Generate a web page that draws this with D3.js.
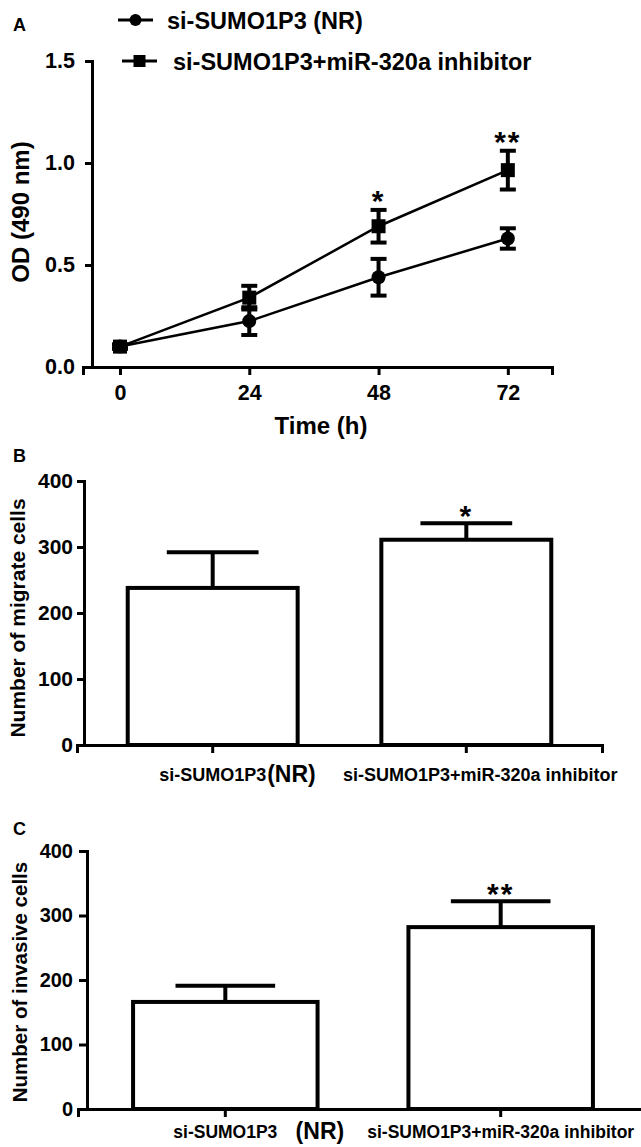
<!DOCTYPE html>
<html>
<head>
<meta charset="utf-8">
<script src="https://cdnjs.cloudflare.com/ajax/libs/d3/7.8.5/d3.min.js"></script>
<style>
  body { margin: 0; background: #fff; }
  svg { display: block; font-family: "Liberation Sans", Arial, sans-serif; font-weight: bold; }
</style>
</head>
<body>
<svg id="fig" width="641" height="1147"></svg>
<script>
// Panel A - OD over time
const timePoints = [0, 24, 48, 72];
const odNR = [0.10, 0.225, 0.44, 0.63];
const odNRErr = [0.01, 0.068, 0.09, 0.05];
const odInh = [0.10, 0.34, 0.69, 0.965];
const odInhErr = [0.01, 0.058, 0.08, 0.095];
const odSig = ['', '', '*', '**'];
const seriesNames = ['si-SUMO1P3 (NR)', 'si-SUMO1P3+miR-320a inhibitor'];

// Panels B and C - bar charts
const groups = ['si-SUMO1P3', 'si-SUMO1P3+miR-320a inhibitor'];
const migrate = [238, 311];
const migrateErr = [54, 25];
const migrateSig = ['', '*'];
const invasive = [166, 282];
const invasiveErr = [25, 40];
const invasiveSig = ['', '**'];
const countTicks = [0, 100, 200, 300, 400];

const svg = d3.select('#fig');
const black = '#000';

function styleAxis(g, fs) {
  g.selectAll('path, line').attr('stroke', black).attr('stroke-width', 3);
  g.selectAll('text').attr('fill', black).style('font-size', fs + 'px').style('font-weight', 'bold')
    .style('font-family', '"Liberation Sans", Arial, sans-serif');
}

// ---------------- Panel A ----------------
const xA = d3.scaleLinear().domain([-6.87, 80.2]).range([83, 552]);
const yA = d3.scaleLinear().domain([0, 1.5]).range([367, 61]);

svg.append('text').attr('x', 13).attr('y', 31).style('font-size', '18px').text('A');

const gxA = svg.append('g').attr('transform', 'translate(0,' + yA(0) + ')')
  .call(d3.axisBottom(xA).tickValues(timePoints).tickSizeOuter(0).tickSize(8).tickPadding(10));
styleAxis(gxA, 21.5);

const yAxisX = 92;
const gyA = svg.append('g').attr('transform', 'translate(' + yAxisX + ',0)')
  .call(d3.axisLeft(yA).tickValues([0, 0.5, 1.0, 1.5]).tickFormat(d3.format('.1f')).tickSizeOuter(0).tickSize(7).tickPadding(10));
styleAxis(gyA, 21.5);

svg.append('text').attr('x', 321).attr('y', 434).attr('text-anchor', 'middle')
  .style('font-size', '24px').text('Time (h)');
svg.append('text').attr('transform', 'translate(29,212) rotate(-90)').attr('text-anchor', 'middle')
  .style('font-size', '24px').text('OD (490 nm)');

const lineA = d3.line().x((d, i) => xA(timePoints[i])).y(d => yA(d));

function drawSeries(vals, errs, shape) {
  svg.append('path').datum(vals).attr('d', lineA)
    .attr('fill', 'none').attr('stroke', black).attr('stroke-width', 2.5);
  const g = svg.append('g');
  vals.forEach((v, i) => {
    const x = xA(timePoints[i]);
    const y1 = yA(v + errs[i]), y0 = yA(v - errs[i]);
    g.append('line').attr('x1', x).attr('x2', x).attr('y1', y1).attr('y2', y0)
      .attr('stroke', black).attr('stroke-width', 4);
    [y1, y0].forEach(yy => g.append('line').attr('x1', x - 8).attr('x2', x + 8)
      .attr('y1', yy).attr('y2', yy).attr('stroke', black).attr('stroke-width', 4));
    if (shape === 'circle') {
      g.append('circle').attr('cx', x).attr('cy', yA(v)).attr('r', 7).attr('fill', black);
    } else {
      g.append('rect').attr('x', x - 7).attr('y', yA(v) - 7).attr('width', 14).attr('height', 14).attr('fill', black);
    }
  });
}
drawSeries(odNR, odNRErr, 'circle');
drawSeries(odInh, odInhErr, 'square');

odSig.forEach((s, i) => {
  if (!s) return;
  svg.append('text').attr('x', xA(timePoints[i])).attr('y', yA(odInh[i] + odInhErr[i]) + 1)
    .attr('text-anchor', 'middle').attr('letter-spacing', 2).style('font-size', '30px').text(s);
});

// legend
const legRows = [{ y: 20, x: 118, tx: 167, shape: 'circle' }, { y: 61, x: 122, tx: 173, shape: 'square' }];
legRows.forEach((r, i) => {
  svg.append('line').attr('x1', r.x).attr('x2', r.x + 35).attr('y1', r.y).attr('y2', r.y)
    .attr('stroke', black).attr('stroke-width', 3);
  if (r.shape === 'circle') {
    svg.append('circle').attr('cx', r.x + 17.5).attr('cy', r.y).attr('r', 6).attr('fill', black);
  } else {
    svg.append('rect').attr('x', r.x + 11.5).attr('y', r.y - 6).attr('width', 12).attr('height', 12).attr('fill', black);
  }
  svg.append('text').attr('x', r.tx).attr('y', r.y + 8.5).style('font-size', '23.5px').text(seriesNames[i]);
});

// ---------------- Panels B and C ----------------
function barPanel(opt) {
  const y = d3.scaleLinear().domain([0, 400]).range([opt.y0, opt.y1]);
  const x = d3.scaleBand().domain(groups).range(opt.xr).paddingInner(0.33).paddingOuter(0.2);

  svg.append('text').attr('x', 13).attr('y', opt.letterY).style('font-size', '18px').text(opt.letter);

  const gx = svg.append('g').attr('transform', 'translate(0,' + opt.y0 + ')')
    .call(d3.axisBottom(x).tickSizeOuter(0).tickSize(8).tickFormat(''));
  styleAxis(gx, 18);

  const gy = svg.append('g').attr('transform', 'translate(' + opt.yAxisX + ',0)')
    .call(d3.axisLeft(y).tickValues(countTicks).tickSizeOuter(0).tickSize(opt.tickLen).tickPadding(opt.tickPad));
  styleAxis(gy, opt.tickFs);

  svg.append('text').attr('transform', 'translate(' + opt.labX + ',' + opt.labY + ') rotate(-90)')
    .attr('text-anchor', 'middle').style('font-size', opt.labFs + 'px').text(opt.label);

  opt.vals.forEach((v, i) => {
    const bx = x(groups[i]), bw = x.bandwidth(), cx = bx + bw / 2;
    svg.append('rect').attr('x', bx).attr('y', y(v)).attr('width', bw).attr('height', opt.y0 - y(v))
      .attr('fill', '#fff').attr('stroke', black).attr('stroke-width', 4);
    const et = y(v + opt.errs[i]);
    svg.append('line').attr('x1', cx).attr('x2', cx).attr('y1', y(v)).attr('y2', et)
      .attr('stroke', black).attr('stroke-width', 4);
    svg.append('line').attr('x1', cx - bw * 0.27).attr('x2', cx + bw * 0.27).attr('y1', et).attr('y2', et)
      .attr('stroke', black).attr('stroke-width', 4);
    if (opt.sig[i]) {
      svg.append('text').attr('x', cx).attr('y', et + 3).attr('text-anchor', 'middle')
        .attr('letter-spacing', 2).style('font-size', '30px').text(opt.sig[i]);
    }
  });

  // category labels
  const c0 = x(groups[0]) + x.bandwidth() / 2;
  const t0 = svg.append('text').attr('x', c0).attr('y', opt.labBase).attr('text-anchor', 'middle')
    .style('font-size', opt.catFs + 'px').text(groups[0]);
  const bb = t0.node().getBBox();
  svg.append('text').attr('x', bb.x + bb.width + opt.nrGap).attr('y', opt.labBase + 1)
    .style('font-size', '23px').text('(NR)');
  const c1 = x(groups[1]) + x.bandwidth() / 2;
  svg.append('text').attr('x', c1 + opt.dx1).attr('y', opt.labBase).attr('text-anchor', 'middle')
    .style('font-size', opt.catFs + 'px').text(groups[1]);
}

barPanel({
  letter: 'B', letterY: 462, y0: 745, y1: 481, xr: [77, 602], yAxisX: 84,
  tickLen: 7, tickPad: 4, tickFs: 21, label: 'Number of migrate cells', labX: 25, labY: 618, labFs: 21,
  vals: migrate, errs: migrateErr, sig: migrateSig, labBase: 781, catFs: 18, nrGap: 1, dx1: 14
});
barPanel({
  letter: 'C', letterY: 835, y0: 1109, y1: 851, xr: [78, 648], yAxisX: 87,
  tickLen: 8, tickPad: 6, tickFs: 20, label: 'Number of invasive cells', labX: 27, labY: 982, labFs: 20.5,
  vals: invasive, errs: invasiveErr, sig: invasiveSig, labBase: 1138, catFs: 17.5, nrGap: 18, dx1: 0
});
</script>
</body>
</html>
